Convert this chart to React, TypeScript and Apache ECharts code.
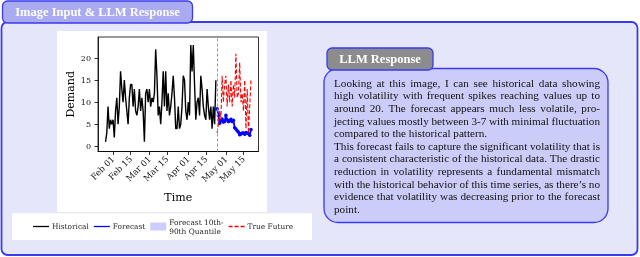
import React, { useEffect, useRef } from "react";
import * as echarts from "echarts";

// ---------- data (day offsets relative to Feb 01) ----------
const tickDays = [0, 14, 29, 43, 60, 74, 90, 104];
const tickLabels = ["Feb 01", "Feb 15", "Mar 01", "Mar 15", "Apr 01", "Apr 15", "May 01", "May 15"];
const yTickValues = [0, 5, 10, 15, 20];

const historyStartDay = -6;
const historicalValues = [
  1, 3, 9, 4, 6, 5, 6, 2, 8, 11,
  5, 9, 17, 13, 10, 15, 11, 8, 5, 11,
  14, 14, 9, 13, 8, 7, 9, 13, 8, 11,
  8, 1, 12, 13, 10, 13, 9, 11, 10, 12,
  22, 16, 7, 9, 5, 10, 17, 9, 17, 8,
  12, 7, 9, 12, 16, 11, 4, 4, 9, 4,
  5, 9, 16, 15, 8, 6, 10, 7, 23, 17,
  23, 14, 6, 10, 11, 7, 16, 13, 9, 7,
  6, 13, 9, 6, 9, 4, 9, 5, 15,
];

const forecastStartDay = 83;
const forecastValues = [
  8.5, 7.0, 5.2, 5.8, 6.2, 5.5, 5.6, 7.0, 6.0, 5.6,
  5.8, 6.1, 5.6, 5.9, 4.2, 3.9, 3.5, 3.2, 2.6, 2.8,
  3.0, 3.0, 2.7, 3.1, 3.0, 2.9, 2.5, 3.8,
];

const bandStartDay = 80;
const bandLower = [
  4.5, 4, 3,
  1.5, 2, 2.2, 1.8, 2, 1.5, 1.8, 1.6, 1.4, 1.2,
  1, 0.8, 0.6, 0.5, 0.3, 0.2, 0, -0.2, -0.3, -0.2,
  -0.3, -0.2, -0.4, -0.3, -0.2, -0.3, -0.4, -0.2,
];
const bandUpper = [
  14, 14.5, 15,
  14.5, 13, 12, 11.5, 11, 11.5, 10.5, 11, 10.5, 10,
  10.5, 10, 10.2, 10, 9.5, 9, 9.2, 8.8, 9, 8.5,
  9, 8.7, 9.2, 9, 8.8, 9.3, 9, 9.5,
];

const trueFutureStartDay = 83;
const trueFutureValues = [
  3, 5, 8, 6, 16, 10, 14, 16, 9, 14,
  10, 15, 9, 14, 11, 21, 11, 12, 19, 10,
  12, 8, 15, 4, 13, 3, 9, 15,
];

const forecastBoundaryDay = 82.8;

const seriesNames = ["Historical", "Forecast", "Forecast 10th-\n90th Quantile", "True Future"];

const panelTitle = "Image Input & LLM Response";
const responseTitle = "LLM Response";
const responseLines = [
  "Looking at this image, I can see historical data showing",
  "high volatility with frequent spikes reaching values up to",
  "around 20. The forecast appears much less volatile, pro-",
  "jecting values mostly between 3-7 with minimal fluctuation",
  "compared to the historical pattern.",
  "This forecast fails to capture the significant volatility that is",
  "a consistent characteristic of the historical data. The drastic",
  "reduction in volatility represents a fundamental mismatch",
  "with the historical behavior of this time series, as there\u2019s no",
  "evidence that volatility was decreasing prior to the forecast",
  "point.",
];
const paragraphEnds = [4, 10];

// ---------- styling ----------
const SERIF = "'Liberation Serif', 'Times New Roman', serif";
const PLOT_FONT = "'DejaVu Serif', serif";
const BLUE_BORDER = "#3a3af0";

function buildResponseText() {
  const size = 11.2;
  const canvas = document.createElement("canvas");
  const ctx = canvas.getContext("2d");
  const font = `${size}px 'Liberation Serif'`;
  const measure = (t: string) => {
    if (!ctx) return t.length * size * 0.45;
    ctx.font = font;
    return ctx.measureText(t).width;
  };
  const left = 334;
  const right = 600;
  const top = 82.7;
  const step = 12.6;
  const els: any[] = [];
  responseLines.forEach((line, i) => {
    const y = top + i * step;
    if (paragraphEnds.includes(i)) {
      els.push({
        type: "text",
        x: left,
        y,
        z: 3,
        style: { text: line, fontSize: size, fontFamily: SERIF, fill: "#111", align: "left", verticalAlign: "middle" },
      });
      return;
    }
    const words = line.split(" ");
    const widths = words.map(measure);
    const total = widths.reduce((a, b) => a + b, 0);
    const gap = words.length > 1 ? (right - left - total) / (words.length - 1) : 0;
    let x = left;
    words.forEach((w, k) => {
      els.push({
        type: "text",
        x,
        y,
        z: 3,
        style: { text: w, fontSize: size, fontFamily: SERIF, fill: "#111", align: "left", verticalAlign: "middle" },
      });
      x += widths[k] + gap;
    });
  });
  return els;
}

const linePath = "path://M0,0H20V1.6H0Z";
const dashPath = "path://M0,0H5V1.6H0Z M7.5,0H12.5V1.6H7.5Z M15,0H20V1.6H15Z";
const patchPath = "path://M0,0H16V8H0Z";

export default function App() {
  const ref = useRef<HTMLDivElement>(null);

  useEffect(() => {
    if (!ref.current) return;
    const chart = echarts.init(ref.current, undefined, { renderer: "svg" });

    const histData = historicalValues.map((v, i) => [historyStartDay + i, v]);
    const fcData = forecastValues.map((v, i) => [forecastStartDay + i, v]);
    const lowData = bandLower.map((v, i) => [bandStartDay + i, v]);
    const diffData = bandUpper.map((v, i) => [bandStartDay + i, v - bandLower[i]]);
    const tfData = trueFutureValues.map((v, i) => [trueFutureStartDay + i, v]);

    const graphic: any[] = [
      // outer panel
      {
        type: "rect",
        z: -10,
        shape: { x: 1.5, y: 22, width: 636, height: 233, r: 6 },
        style: { fill: "#e6e6fa", stroke: BLUE_BORDER, lineWidth: 1.8 },
      },
      {
        type: "rect",
        z: -9,
        shape: { x: 2.5, y: 1, width: 190, height: 22, r: 5 },
        style: { fill: "#aaaaf0", stroke: BLUE_BORDER, lineWidth: 1.3 },
      },
      {
        type: "text",
        z: -8,
        x: 97.5,
        y: 12,
        style: {
          text: panelTitle,
          fontSize: 12.5,
          fontWeight: "bold",
          fontFamily: SERIF,
          fill: "#ffffff",
          align: "center",
          verticalAlign: "middle",
        },
      },
      // chart image background
      {
        type: "rect",
        z: -9,
        shape: { x: 57, y: 31, width: 210, height: 181 },
        style: { fill: "#ffffff" },
      },
      // legend background
      {
        type: "rect",
        z: -9,
        shape: { x: 12, y: 213.3, width: 300, height: 26.7 },
        style: { fill: "#ffffff" },
      },
      // response box
      {
        type: "rect",
        z: -9,
        shape: { x: 324, y: 68.5, width: 284, height: 154, r: 14 },
        style: { fill: "#ccccf8", stroke: BLUE_BORDER, lineWidth: 1.3 },
      },
      {
        type: "rect",
        z: -8,
        shape: { x: 327, y: 48, width: 106, height: 22, r: 5 },
        style: { fill: "#8c8c8c", stroke: BLUE_BORDER, lineWidth: 1.3 },
      },
      {
        type: "text",
        z: -7,
        x: 380,
        y: 59,
        style: {
          text: responseTitle,
          fontSize: 12.5,
          fontWeight: "bold",
          fontFamily: SERIF,
          fill: "#ffffff",
          align: "center",
          verticalAlign: "middle",
        },
      },
      ...buildResponseText(),
    ];

    chart.setOption({
      animation: false,
      textStyle: { fontFamily: PLOT_FONT },
      graphic,
      grid: {
        left: 98,
        top: 37,
        width: 160.5,
        height: 114.5,
        show: true,
        borderColor: "#000",
        borderWidth: 0.8,
        backgroundColor: "transparent",
        containLabel: false,
        outerBoundsMode: "none",
        z: 1,
      },
      legend: {
        left: 28,
        top: 212.5,
        itemWidth: 16,
        itemHeight: 9,
        itemGap: 5,
        selectedMode: false,
        textStyle: {
          fontFamily: PLOT_FONT,
          fontSize: 7.4,
          color: "#222",
          lineHeight: 9,
          padding: [0, 0, 0, -2],
        },
        data: [
          { name: seriesNames[0], icon: linePath, itemStyle: { color: "#000", borderWidth: 0 } },
          { name: seriesNames[1], icon: linePath, itemStyle: { color: "#0000ff", borderWidth: 0 } },
          { name: seriesNames[2], icon: patchPath, itemStyle: { color: "rgba(0,0,255,0.2)", borderWidth: 0 } },
          { name: seriesNames[3], icon: dashPath, itemStyle: { color: "#ff0000", borderWidth: 0 } },
        ],
      },
      xAxis: {
        type: "value",
        min: -12,
        max: 116,
        z: 1,
        splitLine: { show: false },
        axisLine: { show: true, onZero: false, lineStyle: { color: "#000", width: 0.8 } },
        axisTick: { show: true, customValues: tickDays, length: 3.5, lineStyle: { color: "#000", width: 0.8 } },
        axisLabel: {
          customValues: tickDays,
          rotate: 45,
          margin: 6,
          fontSize: 8.5,
          color: "#111",
          fontFamily: PLOT_FONT,
          formatter: (v: number) => {
            const k = tickDays.indexOf(Math.round(v));
            return k >= 0 ? tickLabels[k] : "";
          },
        },
        name: "Time",
        nameLocation: "middle",
        nameGap: 40,
        nameTextStyle: { fontSize: 11, fontFamily: PLOT_FONT, color: "#000" },
      },
      yAxis: {
        type: "value",
        min: -1.2,
        max: 24.8,
        z: 1,
        splitLine: { show: false },
        axisLine: { show: true, onZero: false, lineStyle: { color: "#000", width: 0.8 } },
        axisTick: { show: true, customValues: yTickValues, length: 3.5, lineStyle: { color: "#000", width: 0.8 } },
        axisLabel: {
          customValues: yTickValues,
          margin: 7,
          fontSize: 8,
          color: "#111",
          fontFamily: PLOT_FONT,
        },
        name: "Demand",
        nameLocation: "middle",
        nameRotate: 90,
        nameGap: 22,
        nameTextStyle: { fontSize: 11, fontFamily: PLOT_FONT, color: "#000" },
      },
      series: [
        {
          name: "bandLower",
          type: "line",
          data: lowData,
          stack: "band",
          stackStrategy: "all",
          symbol: "none",
          lineStyle: { opacity: 0 },
          silent: true,
          z: 1,
        },
        {
          name: seriesNames[2],
          type: "line",
          data: diffData,
          stack: "band",
          stackStrategy: "all",
          symbol: "none",
          lineStyle: { opacity: 0 },
          areaStyle: { color: "rgba(0,0,255,0.2)", opacity: 1 },
          itemStyle: { color: "rgba(0,0,255,0.2)" },
          silent: true,
          z: 1,
        },
        {
          name: seriesNames[0],
          type: "line",
          data: histData,
          symbol: "none",
          lineStyle: { color: "#000", width: 1.4 },
          itemStyle: { color: "#000" },
          z: 2,
        },
        {
          name: seriesNames[1],
          type: "line",
          data: fcData,
          symbol: "circle",
          symbolSize: 3.5,
          showSymbol: true,
          lineStyle: { color: "#0000ff", width: 1.8 },
          itemStyle: { color: "#0000ff" },
          z: 3,
          markLine: {
            silent: true,
            symbol: "none",
            label: { show: false },
            lineStyle: { color: "#999", type: [3, 2], width: 1 },
            data: [{ xAxis: forecastBoundaryDay }],
          },
        },
        {
          name: seriesNames[3],
          type: "line",
          data: tfData,
          symbol: "none",
          lineStyle: { color: "#ff0000", width: 1.1, type: [4, 2] },
          itemStyle: { color: "#ff0000" },
          z: 4,
        },
      ],
    });

    return () => chart.dispose();
  }, []);

  return (
    <div
      ref={ref}
      style={{ position: "fixed", left: 0, top: 0, width: 640, height: 257 }}
    />
  );
}
